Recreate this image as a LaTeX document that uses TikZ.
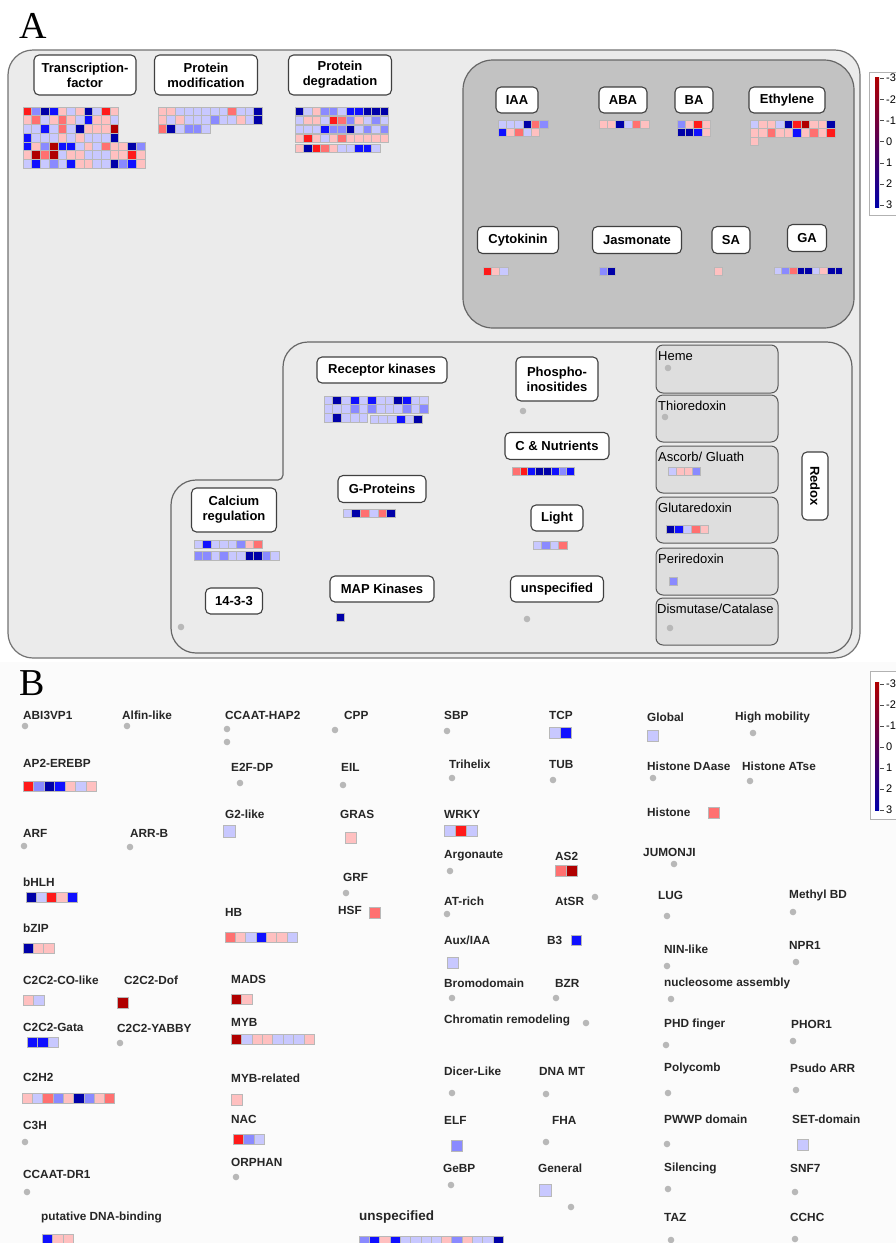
\documentclass[tikz,border=0pt]{standalone}
\usepackage{fontspec}
\setsansfont{Liberation Sans}
\newfontfamily\panelfont{Liberation Serif}
\definecolor{cR}{HTML}{B00000}
\definecolor{cr}{HTML}{FF1A1A}
\definecolor{cm}{HTML}{FF7070}
\definecolor{cp}{HTML}{FFC0C0}
\definecolor{cl}{HTML}{C8C8FF}
\definecolor{cb}{HTML}{8A8AFF}
\definecolor{cB}{HTML}{1010FF}
\definecolor{cN}{HTML}{0000A8}
\tikzset{
  lab/.style={draw=black!75, line width=1.1pt, fill=white, rounded corners=5pt,
    font=\sffamily\bfseries\fontsize{13}{15}\selectfont, align=center, inner xsep=4pt, inner ysep=3pt},
  redoxbox/.style={draw=black!65, line width=1pt, fill=black!13, rounded corners=7pt},
  redoxlab/.style={anchor=west, inner sep=0pt, font=\sffamily\fontsize{13}{13}\selectfont},
  tf/.style={anchor=west, inner sep=0pt, font=\sffamily\bfseries\fontsize{11.8}{12}\selectfont, text=black!85},
  dot/.style={fill=black!28},
  legtxt/.style={anchor=west, inner sep=0pt, font=\sffamily\fontsize{11}{11}\selectfont},
}
\newcommand{\heat}[4]{%
  \foreach \hc [count=\hi from 0] in {#4}
    \filldraw[fill=c\hc, draw=black!28, line width=0.5pt] ({#1+\hi*#3},#2) rectangle ++(#3,#3);}
\begin{document}
\begin{tikzpicture}[x=1pt,y=-1pt]
      \useasboundingbox (0,0) rectangle (896,1243);
      \fill[white] (0,0) rectangle (896,1243);
      \fill[black!1.5] (0,662) rectangle (896,1243);
      \node[font=\panelfont\fontsize{38}{38}\selectfont] (pa) at (33,26) {A};
      \node[font=\panelfont\fontsize{38}{38}\selectfont] (pb) at (32,683) {B};
      \draw[draw=black!55, line width=1.2pt, fill=black!8, rounded corners=25pt] (8,50) rectangle (860,658);
      \draw[draw=black!60, line width=1.2pt, fill=black!24, rounded corners=30pt] (463,60) rectangle (854,328);
      \draw[draw=black!60, line width=1.2pt, fill=black!8, rounded corners=25pt]
        (283,420) -- (283,342) -- (852,342) -- (852,653) -- (171,653) -- (171,480) [rounded corners=5pt] -- (283,480) -- cycle;
      \draw
        (85,75) node[lab, minimum width=102, minimum height=40] (tfac) {Transcription-\\factor}
        (206,75) node[lab, minimum width=103, minimum height=40] (pmod) {Protein\\modification}
        (340,75) node[lab, minimum width=103, minimum height=40] (pdeg) {Protein\\degradation}
        (517,100) node[lab, minimum width=42, minimum height=26] (iaa) {IAA}
        (623,100) node[lab, minimum width=48, minimum height=26] (aba) {ABA}
        (694,100) node[lab, minimum width=38, minimum height=26] (ba) {BA}
        (787,100) node[lab, minimum width=76, minimum height=26] (eth) {Ethylene}
        (518,240) node[lab, minimum width=81, minimum height=27] (cyto) {Cytokinin}
        (637,240) node[lab, minimum width=89, minimum height=27] (jas) {Jasmonate}
        (731,240) node[lab, minimum width=38, minimum height=27] (sa) {SA}
        (807,238) node[lab, minimum width=39, minimum height=27] (ga) {GA}
        (382,370) node[lab, minimum width=130, minimum height=26] (rk) {Receptor kinases}
        (557,379) node[lab, minimum width=82, minimum height=44] (phos) {Phospho-\\inositides}
        (557,446) node[lab, minimum width=104, minimum height=27] (cnut) {C \& Nutrients}
        (382,489) node[lab, minimum width=88, minimum height=27] (gprot) {G-Proteins}
        (234,510) node[lab, minimum width=85, minimum height=44] (calc) {Calcium\\regulation}
        (557,518) node[lab, minimum width=52, minimum height=26] (light) {Light}
        (234,601) node[lab, minimum width=57, minimum height=26] (f1433) {14-3-3}
        (382,589) node[lab, minimum width=104, minimum height=26] (mapk) {MAP Kinases}
        (557,589) node[lab, minimum width=93, minimum height=26] (unsA) {unspecified}
        (815,486) node[lab, rotate=-90, minimum width=68, minimum height=26] (redox) {Redox};
      \begin{scope}
        \draw[redoxbox] (656,345) rectangle (778,393);
        \draw[redoxbox] (656,395) rectangle (778,442);
        \draw[redoxbox] (656,446) rectangle (778,493);
        \draw[redoxbox] (656,497) rectangle (778,543);
        \draw[redoxbox] (656,548) rectangle (778,595);
        \draw[redoxbox] (656,598) rectangle (778,645);
        \node[redoxlab] (heme) at (658,356) {Heme};
        \node[redoxlab] (thio) at (658,406) {Thioredoxin};
        \node[redoxlab] (asc) at (658,457) {Ascorb/ Gluath};
        \node[redoxlab] (glut) at (658,508) {Glutaredoxin};
        \node[redoxlab] (peri) at (658,559) {Periredoxin};
        \node[redoxlab] (dism) at (657,609) {Dismutase/Catalase};
      \end{scope}
      \heat{23}{107}{8.7}{r,b,N,B,p,l,p,N,l,r,p}
      \heat{23}{115.7}{8.7}{p,m,l,p,m,p,l,B,p,p,l}
      \heat{23}{124.4}{8.7}{l,l,B,l,m,l,N,p,p,p,R}
      \heat{23}{133.1}{8.7}{B,l,l,l,p,l,p,l,l,l,N}
      \heat{23}{141.8}{8.7}{B,p,b,R,B,B,l,p,l,m,p,p,N,b}
      \heat{23}{150.5}{8.7}{p,R,m,R,l,p,p,l,l,l,p,p,r,p}
      \heat{23}{159.2}{8.7}{l,B,l,b,l,B,p,p,l,l,N,b,B,p}
      \heat{158}{107}{8.7}{p,p,l,l,l,l,l,l,m,l,l,N}
      \heat{158}{115.7}{8.7}{p,l,p,l,l,l,b,l,l,p,l,N}
      \heat{158}{124.4}{8.7}{m,N,l,b,b,l}
      \heat{295}{107}{8.5}{N,l,p,b,b,l,B,B,N,N,N}
      \heat{295}{116}{8.5}{l,p,p,l,r,m,b,p,l,b,l}
      \heat{295}{125}{8.5}{l,l,l,B,b,b,N,l,b,l,b}
      \heat{295}{134}{8.5}{p,r,p,l,p,m,p,p,p,p,p}
      \heat{295}{144}{8.5}{p,N,r,m,p,l,l,B,B,l}
      \heat{498}{120}{8.3}{l,l,l,N,m,b}
      \heat{498}{128.3}{8.3}{B,p,m,l,p}
      \heat{599}{120}{8.3}{p,p,N,l,m,p}
      \heat{677}{120}{8.3}{b,p,r,p}
      \heat{677}{128.3}{8.3}{N,N,B,p}
      \heat{750}{120}{8.5}{l,p,p,l,N,r,R,p,p,N}
      \heat{750}{128.5}{8.5}{p,p,m,p,p,B,p,m,p,r}
      \heat{750}{137}{8.5}{p}
      \heat{483}{267}{8.3}{r,p,l}
      \heat{599}{267}{8.3}{b,N}
      \heat{714}{267}{8.3}{p}
      \heat{774}{267}{7.6}{l,b,m,N,N,l,p,N,N}
      \heat{324}{396}{8.7}{l,N,l,B,l,B,l,l,N,B,l,l}
      \heat{324}{404.7}{8.7}{l,l,l,b,l,b,l,l,l,b,l,b}
      \heat{324}{413.4}{8.7}{l,N,l,l,l}
      \heat{370}{415}{8.7}{l,l,l,B,l,N}
      \heat{343}{509}{8.7}{l,N,m,l,m,N}
      \heat{194}{540}{8.5}{l,B,l,l,l,b,p,m}
      \heat{194}{551.5}{8.5}{b,b,l,b,l,l,N,N,b,l}
      \heat{336}{613}{8.5}{N}
      \heat{512}{467}{7.8}{m,r,B,N,N,B,b,B}
      \heat{533}{541}{8.5}{l,b,l,m}
      \heat{668}{467}{8}{l,p,p,b}
      \heat{666}{525}{8.5}{N,B,l,m,p}
      \heat{669}{577}{8}{b}
      \foreach \p in {(523,411),(527,619),(181,627),(668,368),(665,417),(670,628)}
        \fill[dot] \p circle (3.3);
      % colour keys
      \draw[black!30, fill=white] (869,72) rectangle (900,215);
      \shade[top color=cR, middle color=white, bottom color=cN] (875,77) rectangle (879,207);
      \draw[black!30, fill=white] (870,671) rectangle (900,819);
      \shade[top color=cR, middle color=white, bottom color=cN] (875,682) rectangle (879,810);
      \foreach \v [count=\k from 0] in {-3,-2,-1,0,1,2,3} {
        \draw[black!70] (880,78+\k*21.2) -- (884,78+\k*21.2);
        \node[legtxt] (ka\k) at (886,78+\k*21.2) {\v};
        \draw[black!70] (880,684+\k*21) -- (884,684+\k*21);
        \node[legtxt] (kb\k) at (886,684+\k*21) {\v};
      }
      \begin{scope}[every node/.style={tf}]
      \draw
        (23,715) node (abi) {ABI3VP1}
        (122,715) node (alfin) {Alfin-like}
        (225,715) node (hap2) {CCAAT-HAP2}
        (344,715) node (cpp) {CPP}
        (444,715) node (sbp) {SBP}
        (549,715) node (tcp) {TCP}
        (647,717) node (glob) {Global}
        (735,717) node (hmob) {High mobility}
        (23,763) node (ap2) {AP2-EREBP}
        (231,767) node (e2f) {E2F-DP}
        (341,767) node (eil) {EIL}
        (449,764) node (trih) {Trihelix}
        (549,764) node (tub) {TUB}
        (647,766) node (hdaa) {Histone DAase}
        (742,766) node (hats) {Histone ATse}
        (225,814) node (g2) {G2-like}
        (340,814) node (gras) {GRAS}
        (444,814) node (wrky) {WRKY}
        (647,812) node (hist) {Histone}
        (23,833) node (arf) {ARF}
        (130,833) node (arrb) {ARR-B}
        (444,856) node (argo) {Argonaute}
        (555,856) node (as2) {AS2}
        (643,852) node (jmj) {JUMONJI}
        (343,877) node (grf) {GRF}
        (23,882) node (bhlh) {bHLH}
        (658,895) node (lug) {LUG}
        (789,895) node (mbd) {Methyl BD}
        (444,901) node (atr) {AT-rich}
        (555,901) node (atsr) {AtSR}
        (338,910) node (hsf) {HSF}
        (225,912) node (hb) {HB}
        (23,928) node (bzip) {bZIP}
        (444,940) node (aux) {Aux/IAA}
        (547,940) node (b3) {B3}
        (664,949) node (nin) {NIN-like}
        (789,945) node (npr) {NPR1}
        (23,980) node (co) {C2C2-CO-like}
        (124,980) node (dof) {C2C2-Dof}
        (231,979) node (mads) {MADS}
        (444,983) node (bromo) {Bromodomain}
        (555,983) node (bzr) {BZR}
        (664,983) node (nucl) {nucleosome assembly}
        (23,1027) node (gata) {C2C2-Gata}
        (117,1028) node (yabby) {C2C2-YABBY}
        (231,1022) node (myb) {MYB}
        (444,1020) node (chrom) {Chromatin remodeling}
        (664,1024) node (phd) {PHD finger}
        (791,1024) node (phor) {PHOR1}
        (23,1077) node (c2h2) {C2H2}
        (231,1078) node (mybr) {MYB-related}
        (444,1071) node (dicer) {Dicer-Like}
        (539,1071) node (dnamt) {DNA MT}
        (664,1068) node (poly) {Polycomb}
        (790,1068) node (parr) {Psudo ARR}
        (23,1125) node (c3h) {C3H}
        (231,1119) node (nac) {NAC}
        (444,1120) node (elf) {ELF}
        (552,1120) node (fha) {FHA}
        (664,1119) node (pwwp) {PWWP domain}
        (792,1119) node (set) {SET-domain}
        (23,1174) node (dr1) {CCAAT-DR1}
        (231,1162) node (orph) {ORPHAN}
        (443,1168) node (gebp) {GeBP}
        (538,1168) node (gen) {General}
        (664,1168) node (sil) {Silencing}
        (790,1168) node (snf) {SNF7}
        (41,1217) node (put) {putative DNA-binding}
        (359,1217) node[font=\sffamily\bfseries\fontsize{13.5}{14}\selectfont] (unsB) {unspecified}
        (664,1217) node (taz) {TAZ}
        (790,1217) node (cchc) {CCHC};
      \end{scope}
      \heat{23}{781}{10.5}{r,b,N,B,p,l,p}
      \heat{223}{825}{12}{l}
      \heat{26}{892}{10.2}{N,l,r,p,B}
      \heat{225}{932}{10.3}{m,p,l,B,p,p,l}
      \heat{23}{943}{10.3}{N,p,p}
      \heat{23}{995}{10.5}{p,l}
      \heat{117}{997}{11}{R}
      \heat{231}{994}{10.5}{R,p}
      \heat{27}{1037}{10.5}{B,B,l}
      \heat{231}{1034}{10.4}{R,l,p,p,l,l,l,p}
      \heat{22}{1093}{10.3}{p,l,m,b,p,N,b,p,m}
      \heat{231}{1094}{11.5}{p}
      \heat{233}{1134}{10.5}{r,b,l}
      \heat{42}{1234}{10.5}{B,p,p}
      \heat{549}{727}{11}{l,B}
      \heat{345}{832}{11.5}{p}
      \heat{444}{825}{11}{l,r,l}
      \heat{555}{865}{11}{m,R}
      \heat{369}{907}{11.5}{m}
      \heat{447}{957}{11.5}{l}
      \heat{571}{935}{10.5}{B}
      \heat{451}{1140}{11.5}{b}
      \heat{539}{1184}{12.5}{l}
      \heat{359}{1236}{10.3}{b,B,p,B,l,l,l,l,p,b,p,l,l,N}
      \heat{647}{730}{11.5}{l}
      \heat{708}{807}{11}{m}
      \heat{797}{1139}{11.5}{l}
      \foreach \p in {(25,726),(127,726),(227,729),(227,742),(335,730),(447,731),(753,733),
          (240,783),(343,785),(452,778),(553,780),(653,778),(750,781),(24,846),(130,847),
          (450,871),(674,864),(346,893),(667,916),(793,912),(447,914),(595,897),(667,966),
          (796,962),(452,998),(556,998),(671,999),(120,1043),(586,1023),(666,1045),(793,1041),
          (452,1093),(546,1094),(668,1093),(796,1090),(25,1142),(546,1142),(667,1144),
          (27,1192),(236,1177),(451,1185),(571,1207),(668,1189),(795,1192),(671,1240),(795,1239)}
        \fill[dot] \p circle (3.3);
    \end{tikzpicture}
\end{document}
